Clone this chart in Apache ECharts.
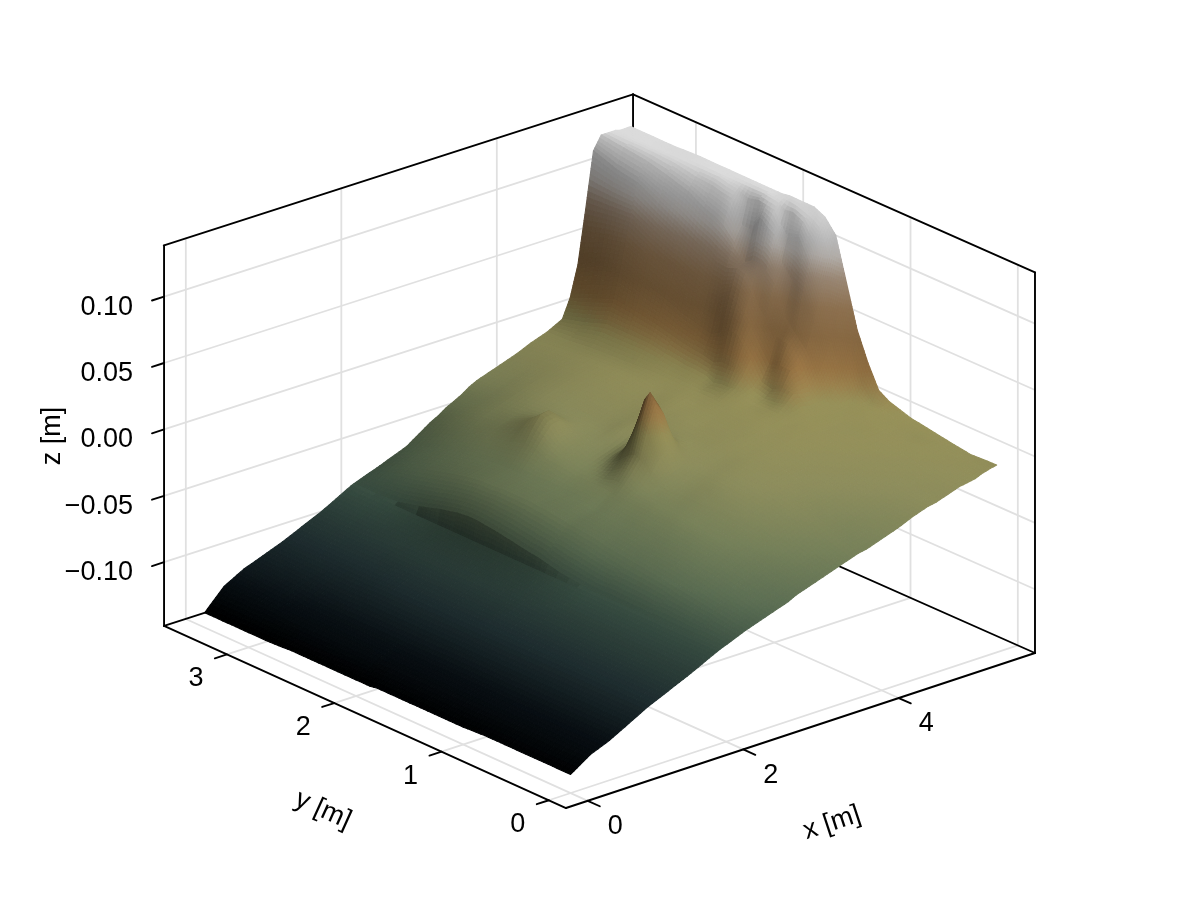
<!DOCTYPE html>
<html><head><meta charset="utf-8"><style>html,body{margin:0;background:#fff}#c{width:1200px;height:900px}</style>
<script src="https://cdn.jsdelivr.net/npm/echarts@6/dist/echarts.min.js"></script></head>
<body><div id="c"></div><script>
// ---- values ----
const xTicks=[0,2,4];
const yTicks=[0,1,2,3];
const zTicks=[-0.10,-0.05,0,0.05,0.10];
const zTickLabels=['\u22120.10','\u22120.05','0.00','0.05','0.10'];
const xTitle='x [m]', yTitle='y [m]', zTitle='z [m]';
const xRange=[-0.28,5.752], yRange=[-0.16,3.586], zRange=[-0.148,0.1386];
const xs=[0,.25,.5,1,1.5,1.88,1.92,2.25,2.6,2.8,2.9,3,3.1,3.2,3.3,3.4,3.5,3.6,3.7,3.8,4,4.2,4.4,4.6,4.7,4.8,4.9,5,5.1,5.2,5.28,5.34,5.4,5.48];
const ys=[0,.25,.5,.65,.8,1,1.1,1.2,1.3,1.4,1.5,1.6,1.65,1.7,1.8,1.87,1.93,2,2.07,2.17,2.27,2.35,2.45,2.6,2.8,3,3.2,3.41];
// surface height in millimetres, one row per ys entry, one column per xs entry
const heightsMm=[
[-134,-124,-118,-102,-89,-78,-77,-69,-62,-58,-55,-53,-51,-49,-47,-45,-43,-41,-39,-38,-34,-30,-25,-21,-20,-18,-16,-14,-13,-12,-10,-9,-8,-7],
[-134,-124,-118,-102,-89,-78,-77,-66,-57,-53,-50,-48,-45,-43,-41,-39,-37,-35,-33,-34,-32,-28,-24,-20,-19,-17,-15,-13,-11,-10,-9,-8,-8,-8],
[-134,-124,-118,-102,-89,-78,-77,-63,-52,-47,-44,-42,-39,-36,-34,-32,-30,-28,-26,-27,-25,-22,-19,-15,-14,-12,-11,-9,-8,-6,-6,-6,-5,-5],
[-134,-124,-118,-102,-89,-78,-77,-61,-50,-44,-41,-39,-36,-33,-31,-29,-27,-25,-23,-23,-21,-18,-15,-12,-11,-9,-7,-6,-6,-7,-8,-6,-4,-3],
[-134,-124,-118,-102,-89,-78,-77,-59,-48,-42,-39,-37,-34,-31,-28,-26,-24,-22,-20,-18,-17,-15,-12,-9,-7,-6,-6,-5,-4,-4,-4,-3,-2,-1],
[-135,-124,-118,-102,-89,-78,-77,-57,-47,-40,-37,-35,-32,-29,-26,-24,-22,-20,-18,-16,-13,-10,-7,-5,-5,-6,-7,-5,-2,-1,0,1,2,4],
[-135,-124,-118,-102,-89,-78,-77,-56,-47,-39,-36,-34,-31,-28,-26,-23,-21,-19,-17,-15,-12,-9,-6,-4,-4,-4,-4,-3,-2,-1,0,0,1,9],
[-135,-124,-118,-102,-89,-78,-77,-55,-46,-39,-36,-34,-31,-28,-26,-23,-21,-19,-17,-15,-12,-9,-6,-4,-3,-3,-3,-2,-2,-1,0,4,10,26],
[-135,-124,-118,-102,-89,-78,-76,-54,-46,-38,-35,-33,-30,-28,-25,-23,-21,-19,-17,-15,-11,-8,-6,-4,-2,-1,-2,-1,0,7,14,23,32,47],
[-135,-124,-118,-102,-89,-78,-75,-52,-46,-38,-35,-33,-29,-26,-24,-22,-19,-18,-16,-14,-11,-8,-5,-3,2,8,6,6,14,26,38,50,62,79],
[-135,-124,-118,-102,-89,-78,-74,-51,-45,-38,-34,-30,-24,-15,-9,-11,-15,-17,-16,-14,-11,-8,-5,-3,0,9,20,22,31,50,68,80,95,111],
[-135,-124,-118,-102,-89,-78,-72,-50,-45,-37,-31,-24,-16,5,22,13,-5,-14,-15,-14,-11,-8,-5,-3,-1,4,20,34,40,70,90,105,115,121],
[-135,-124,-118,-102,-89,-78,-71,-50,-45,-37,-31,-23,-14,10,29,18,-3,-13,-15,-14,-11,-8,-5,-2,0,5,19,35,45,72,98,110,118,123],
[-135,-124,-118,-102,-89,-78,-70,-49,-44,-36,-31,-24,-16,5,22,13,-5,-14,-15,-14,-11,-8,-5,-1,1,6,17,36,50,74,106,116,120,125],
[-135,-124,-118,-102,-89,-78,-69,-48,-44,-36,-34,-30,-24,-15,-9,-11,-15,-17,-16,-14,-10,-8,-5,1,8,19,30,46,71,84,102,120,123,125],
[-136,-124,-118,-102,-89,-78,-68,-47,-44,-36,-34,-32,-28,-24,-21,-20,-19,-18,-16,-14,-10,-8,-5,0,12,27,39,52,77,103,109,119,124,125],
[-136,-124,-118,-102,-89,-78,-67,-47,-44,-36,-34,-32,-30,-27,-25,-23,-21,-18,-16,-14,-10,-8,-5,0,12,33,47,64,81,106,118,122,124,125],
[-136,-123,-118,-102,-89,-78,-66,-46,-44,-36,-34,-32,-30,-28,-26,-24,-21,-18,-16,-14,-10,-7,-5,-2,12,34,52,72,81,111,119,123,124,124],
[-136,-123,-118,-102,-89,-78,-65,-46,-44,-35,-33,-31,-29,-27,-25,-22,-19,-17,-16,-14,-10,-7,-5,1,9,30,54,74,77,99,120,124,124,124],
[-136,-123,-118,-102,-89,-78,-64,-46,-44,-34,-31,-28,-26,-26,-25,-23,-21,-19,-17,-15,-11,-8,-5,2,11,25,47,71,88,99,118,124,124,124],
[-136,-123,-118,-102,-89,-78,-63,-46,-44,-33,-27,-22,-21,-22,-23,-22,-21,-19,-17,-15,-11,-8,-5,2,12,27,48,72,97,116,121,124,124,124],
[-136,-123,-118,-102,-89,-78,-63,-47,-44,-30,-22,-15,-14,-18,-21,-22,-21,-19,-17,-15,-11,-8,-5,3,13,29,52,76,101,117,122,124,124,124],
[-136,-123,-118,-102,-89,-78,-64,-47,-44,-29,-19,-11,-10,-15,-20,-22,-21,-19,-17,-15,-11,-8,-5,4,15,31,55,80,104,119,124,124,124,124],
[-136,-123,-118,-103,-89,-78,-67,-49,-45,-33,-27,-22,-21,-22,-23,-22,-21,-19,-17,-15,-11,-8,-6,6,18,36,61,87,111,120,124,124,124,124],
[-137,-123,-118,-103,-89,-78,-72,-53,-47,-36,-33,-31,-29,-27,-25,-23,-21,-19,-17,-15,-12,-9,-7,6,21,41,68,96,116,123,124,124,124,124],
[-137,-122,-116,-103,-90,-78,-76,-58,-50,-41,-37,-33,-31,-29,-27,-25,-23,-21,-19,-18,-14,-11,-8,6,23,47,77,105,120,124,124,123,123,123],
[-137,-122,-115,-103,-90,-78,-77,-63,-55,-46,-42,-39,-37,-35,-33,-31,-28,-26,-24,-22,-17,-13,-10,0,16,42,75,108,122,124,124,123,123,123],
[-137,-122,-114,-103,-90,-78,-77,-70,-62,-54,-50,-47,-43,-40,-37,-33,-30,-28,-26,-24,-20,-15,-11,-5,9,32,72,114,124,124,124,123,123,123]
];
// colour ramp: height in metres, then r,g,b
const rampZ=[-0.137,-0.12,-0.10,-0.08,-0.06,-0.04,-0.02,0,0.01,0.02,0.04,0.06,0.08,0.095,0.105,0.115];
const rampR=[0,8,30,52,86,110,132,142,150,150,142,150,165,190,195,205];
const rampG=[0,14,44,72,103,120,132,136,125,115,110,120,145,185,195,205];
const rampB=[0,18,46,62,78,84,87,84,75,68,70,85,125,180,195,205];

// ---- view of the box on the page ----
const view={ox:570.6,oy:596.5,xx:77.75,xy:-25.7,yx:-107.3,yy:-48.6,zy:-1328,persp:0.177};
const K=13, L=[0.1,-0.6,0.8], shadeA=0.55, shadeD=0.65, shadeMax=1.07;
function proj(x,y,z,p){
  const c=p?view.persp*(x-xRange[0])*(y-yRange[0]):0;
  return [view.ox+view.xx*x+view.yx*y, view.oy+view.xy*x+view.yy*y+view.zy*z+c];
}
function ramp(z){
  const n=rampZ.length;
  if(z<=rampZ[0])return [rampR[0],rampG[0],rampB[0]];
  if(z>=rampZ[n-1])return [rampR[n-1],rampG[n-1],rampB[n-1]];
  let i=0;while(z>rampZ[i+1])i++;
  const t=(z-rampZ[i])/(rampZ[i+1]-rampZ[i]);
  return [rampR[i]+t*(rampR[i+1]-rampR[i]),rampG[i]+t*(rampG[i+1]-rampG[i]),rampB[i]+t*(rampB[i+1]-rampB[i])];
}
const Z=(i,j)=>heightsMm[j][i]/1000;
function shadeOf(sx,sy){
  const nx=-K*sx,ny=-K*sy,nz=1,l=Math.hypot(nx,ny,nz);
  return Math.min(shadeMax,shadeA+shadeD*(nx*L[0]+ny*L[1]+nz*L[2])/l);
}
// per-vertex shade from the mean of neighbouring slopes, softened once
const rawShade=ys.map((_,j)=>xs.map((_,i)=>{
  const il=Math.max(i-1,0),ir=Math.min(i+1,xs.length-1),jl=Math.max(j-1,0),jr=Math.min(j+1,ys.length-1);
  let sx=0,c=0; if(i>il){sx+=(Z(i,j)-Z(il,j))/(xs[i]-xs[il]);c++} if(ir>i){sx+=(Z(ir,j)-Z(i,j))/(xs[ir]-xs[i]);c++} sx/=c;
  let sy=0;c=0; if(j>jl){sy+=(Z(i,j)-Z(i,jl))/(ys[j]-ys[jl]);c++} if(jr>j){sy+=(Z(i,jr)-Z(i,j))/(ys[jr]-ys[j]);c++} sy/=c;
  return shadeOf(sx,sy);
}));
const vShade=rawShade.map((row,j)=>row.map((v,i)=>{
  let s=v*4,c=4;
  [[i-1,j],[i+1,j],[i,j-1],[i,j+1]].forEach(([a,b])=>{if(rawShade[b]&&rawShade[b][a]!==undefined){s+=rawShade[b][a];c++}});
  return s/c;
}));
// cells, far ones first
const cells=[];
for(let i=xs.length-2;i>=0;i--)for(let j=ys.length-2;j>=0;j--)cells.push([i,j]);
function renderCell(params,api){
  const [i,j]=cells[params.dataIndex];
  const x0=xs[i],x1=xs[i+1],y0=ys[j],y1=ys[j+1];
  const z00=Z(i,j),z10=Z(i+1,j),z01=Z(i,j+1),z11=Z(i+1,j+1);
  const s00=vShade[j][i],s10=vShade[j][i+1],s01=vShade[j+1][i],s11=vShade[j+1][i+1];
  const faceS=shadeOf(((z10-z00)+(z11-z01))/2/(x1-x0),((z01-z00)+(z11-z10))/2/(y1-y0));
  const w=(x1-x0)<0.05?1:0.1;
  const a=proj(x0,y0,z00),b=proj(x1,y0,z10),c=proj(x0,y1,z01),d=proj(x1,y1,z11);
  const nu=Math.min(10,Math.max(1,Math.ceil(Math.max(Math.hypot(a[0]-b[0],a[1]-b[1]),Math.hypot(c[0]-d[0],c[1]-d[1]))/5)));
  const nv=Math.min(10,Math.max(1,Math.ceil(Math.max(Math.hypot(a[0]-c[0],a[1]-c[1]),Math.hypot(b[0]-d[0],b[1]-d[1]))/5)));
  const bil=(p,q,r,s,u,v)=>p*(1-u)*(1-v)+q*u*(1-v)+r*(1-u)*v+s*u*v;
  const pt=(u,v)=>api.coord(proj(x0+(x1-x0)*u,y0+(y1-y0)*v,bil(z00,z10,z01,z11,u,v)));
  const kids=[];
  for(let iu=nu-1;iu>=0;iu--)for(let iv=nv-1;iv>=0;iv--){
    const u=iu/nu,v=iv/nv,u2=(iu+1)/nu,v2=(iv+1)/nv,um=(u+u2)/2,vm=(v+v2)/2;
    const col=ramp(bil(z00,z10,z01,z11,um,vm));
    const sh=bil(s00,s10,s01,s11,um,vm)*(1-w)+faceS*w;
    const css='rgb('+col.map(q=>Math.min(255,Math.round(q*sh))).join(',')+')';
    kids.push({type:'polygon',shape:{points:[pt(u,v),pt(u2,v),pt(u2,v2),pt(u,v2)]},style:{fill:css,stroke:css,lineWidth:1.1,lineJoin:'round'},silent:true});
  }
  return {type:'group',children:kids};
}
// grid lines on the three back planes
const gridSegs=[];
const [xa,xb]=xRange,[ya,yb]=yRange,[za,zb]=zRange;
xTicks.forEach(t=>{gridSegs.push([t,ya,za,t,yb,za]);gridSegs.push([t,yb,za,t,yb,zb]);});
yTicks.forEach(t=>{gridSegs.push([xa,t,za,xb,t,za]);gridSegs.push([xb,t,za,xb,t,zb]);});
zTicks.forEach(t=>{gridSegs.push([xa,yb,t,xb,yb,t]);gridSegs.push([xb,ya,t,xb,yb,t]);});
// box edges
const boxSegs=[
 [xa,yb,zb,xb,yb,zb],[xb,ya,zb,xb,yb,zb],[xb,yb,za,xb,yb,zb],[xa,yb,za,xa,yb,zb],[xb,ya,za,xb,ya,zb],
 [xa,ya,za,xa,yb,za],[xa,ya,za,xb,ya,za],[xa,yb,za,xb,yb,za],[xb,ya,za,xb,yb,za]];
// tick marks
const tickLen=0.155, tickLenY=0.112, tickLenZ=0.155;
const tickSegs=[];
xTicks.forEach(t=>tickSegs.push([t,ya,za,t,ya-tickLenY,za]));
yTicks.forEach(t=>tickSegs.push([xa,t,za,xa-tickLen,t,za]));
zTicks.forEach(t=>tickSegs.push([xa,yb,t,xa-tickLenZ,yb,t]));
function renderSeg(stroke,lw,segs){return (params,api)=>{
  const s=segs[params.dataIndex],p=api.coord(proj(s[0],s[1],s[2],true)),q=api.coord(proj(s[3],s[4],s[5],true));
  return {type:'line',shape:{x1:p[0],y1:p[1],x2:q[0],y2:q[1]},style:{stroke,lineWidth:lw,lineCap:'round'},silent:true};
}}
// text
const font='"Liberation Sans",Arial,sans-serif', fs=27;
const texts=[];
xTicks.forEach(t=>{const p=proj(t,ya,za,true);texts.push({s:String(t),x:p[0]+27.5,y:p[1]+26,a:'center'});});
yTicks.forEach(t=>{const p=proj(xa,t,za,true);texts.push({s:String(t),x:p[0]-31,y:p[1]+24.5,a:'center'});});
zTicks.forEach((t,k)=>{const p=proj(xa,yb,t,true);texts.push({s:zTickLabels[k],x:133,y:p[1]+10.5,a:'right'});});
texts.push({s:xTitle,x:832,y:823,a:'center',r:18.3});
texts.push({s:yTitle,x:323,y:810,a:'center',r:-24.4});
texts.push({s:zTitle,x:53,y:436,a:'center',r:90});
function renderText(params,api){
  const t=texts[params.dataIndex],p=api.coord([t.x,t.y]);
  return {type:'text',x:p[0],y:p[1],rotation:(t.r||0)*Math.PI/180,silent:true,
    style:{text:t.s,fontFamily:font,fontSize:fs,fill:'#000',align:t.a,verticalAlign:'middle'}};
}
const chart=echarts.init(document.getElementById('c'),null,{renderer:'canvas',width:1200,height:900});
const ser=(name,data,renderItem)=>({name,type:'custom',coordinateSystem:'cartesian2d',clip:false,silent:true,data,renderItem,progressive:0,animation:false});
chart.setOption({
  animation:false,backgroundColor:'#fff',
  grid:{left:0,right:0,top:0,bottom:0},
  xAxis:{type:'value',min:0,max:1200,show:false},
  yAxis:{type:'value',min:0,max:900,inverse:true,show:false},
  series:[
    ser('grid',gridSegs.map((_,i)=>[i,0]),renderSeg('#e0e0e0',1.8,gridSegs)),
    ser('box',boxSegs.map((_,i)=>[i,0]),renderSeg('#000',1.9,boxSegs)),
    ser('surface',cells.map((c,i)=>[i,0]),renderCell),
    ser('ticks',tickSegs.map((_,i)=>[i,0]),renderSeg('#000',1.9,tickSegs)),
    ser('labels',texts.map((_,i)=>[i,0]),renderText)
  ]
});
</script></body></html>
